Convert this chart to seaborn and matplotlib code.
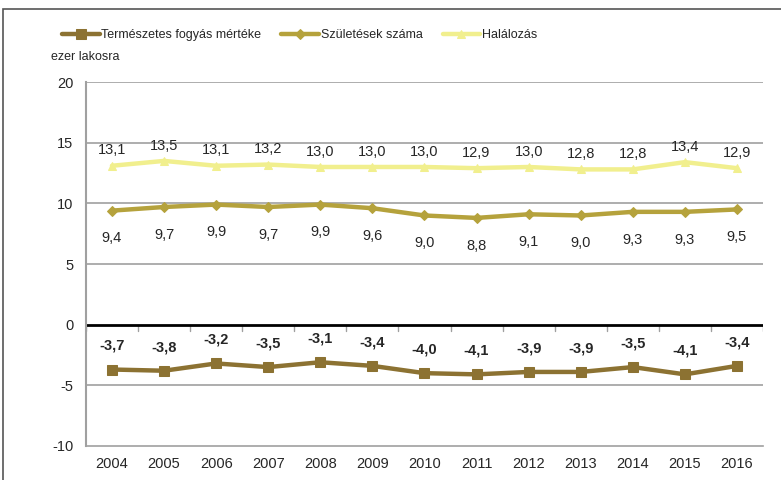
import matplotlib
matplotlib.use("Agg")
import matplotlib.pyplot as plt
import numpy as np
import pandas as pd
import seaborn as sns
from matplotlib.patches import Rectangle

# ── Data ─────────────────────────────────────────────────────────────
years = [2004, 2005, 2006, 2007, 2008, 2009, 2010, 2011, 2012, 2013, 2014, 2015, 2016]
fogyas = [-3.7, -3.8, -3.2, -3.5, -3.1, -3.4, -4.0, -4.1, -3.9, -3.9, -3.5, -4.1, -3.4]
szuletes = [9.4, 9.7, 9.9, 9.7, 9.9, 9.6, 9.0, 8.8, 9.1, 9.0, 9.3, 9.3, 9.5]
halalozas = [13.1, 13.5, 13.1, 13.2, 13.0, 13.0, 13.0, 12.9, 13.0, 12.8, 12.8, 13.4, 12.9]
yticks = [-10, -5, 0, 5, 10, 15, 20]

df = pd.DataFrame({"ev": years, "fogyas": fogyas,
                   "szuletes": szuletes, "halalozas": halalozas})

sns.set_style("white")
plt.rcParams["font.family"] = ["Liberation Sans", "DejaVu Sans"]
plt.rcParams["font.size"] = 10.5

fig = plt.figure(figsize=(7.81, 4.80), dpi=100)
ax = fig.add_axes([0.110, 0.071, 0.867, 0.758])

# ── Series ───────────────────────────────────────────────────────────
series = [
    ("fogyas", "Természetes fogyás mértéke", "#8c7232", "s", 7),
    ("szuletes", "Születések száma", "#b5a23c", "D", 5),
    ("halalozas", "Halálozás", "#f1ef8e", "^", 6),
]
for col, name, c, m, ms in series:
    sns.lineplot(data=df, x="ev", y=col, ax=ax, color=c, lw=3.2,
                 marker=m, markersize=ms, markeredgecolor=c, label=name)

def fmt(v):
    return f"{v:.1f}".replace(".", ",")

for x, v in zip(years, halalozas):
    ax.annotate(fmt(v), (x, v), xytext=(0, 11), textcoords="offset points",
                ha="center", va="center", fontsize=10.5)
for x, v in zip(years, szuletes):
    ax.annotate(fmt(v), (x, v), xytext=(0, -20), textcoords="offset points",
                ha="center", va="center", fontsize=10.5)
for x, v in zip(years, fogyas):
    ax.annotate(fmt(v), (x, v), xytext=(0, 17), textcoords="offset points",
                ha="center", va="center", fontsize=10.5, fontweight="bold")

# ── Axes styling ─────────────────────────────────────────────────────
ax.set_xlim(2003.5, 2016.5)
ax.set_ylim(-10, 20)
ax.set_yticks(yticks)
ax.set_yticklabels([str(t) for t in yticks])
ax.set_xticks(years)
ax.set_xticklabels([str(y) for y in years])
ax.set_xlabel("")
ax.set_ylabel("")
for t in yticks:
    if t not in (0, -10):
        ax.axhline(t, color="#a0a0a0", lw=1.2, zorder=0)
ax.axhline(0, color="black", lw=2, zorder=1)
for b in np.arange(2003.5, 2017, 1):
    ax.plot([b, b], [0, -0.5], color="#a0a0a0", lw=1, zorder=0)
for s in ["top", "right"]:
    ax.spines[s].set_visible(False)
ax.spines["left"].set_color("#a0a0a0")
ax.spines["left"].set_linewidth(1.5)
ax.spines["bottom"].set_color("#a0a0a0")
ax.spines["bottom"].set_linewidth(1.2)
ax.tick_params(axis="y", length=5, color="#a0a0a0", pad=4)
ax.tick_params(axis="x", length=0, pad=8)

ax.get_legend().remove()
handles, labels = ax.get_legend_handles_labels()
fig.legend(handles, labels, loc="center left", bbox_to_anchor=(62 / 781, 1 - 35 / 480),
           ncol=3, frameon=False, borderpad=0, borderaxespad=0,
           handlelength=3.0, columnspacing=1.6, handletextpad=0.15, fontsize=9)

fig.text(51 / 781, 1 - 57 / 480, "ezer lakosra", va="center", fontsize=9)
fig.patches.append(Rectangle((0.004, -0.01), 1.0, 0.991, transform=fig.transFigure,
                             fill=False, ec="#555555", lw=1.2))

fig.savefig("out.png", dpi=100)
